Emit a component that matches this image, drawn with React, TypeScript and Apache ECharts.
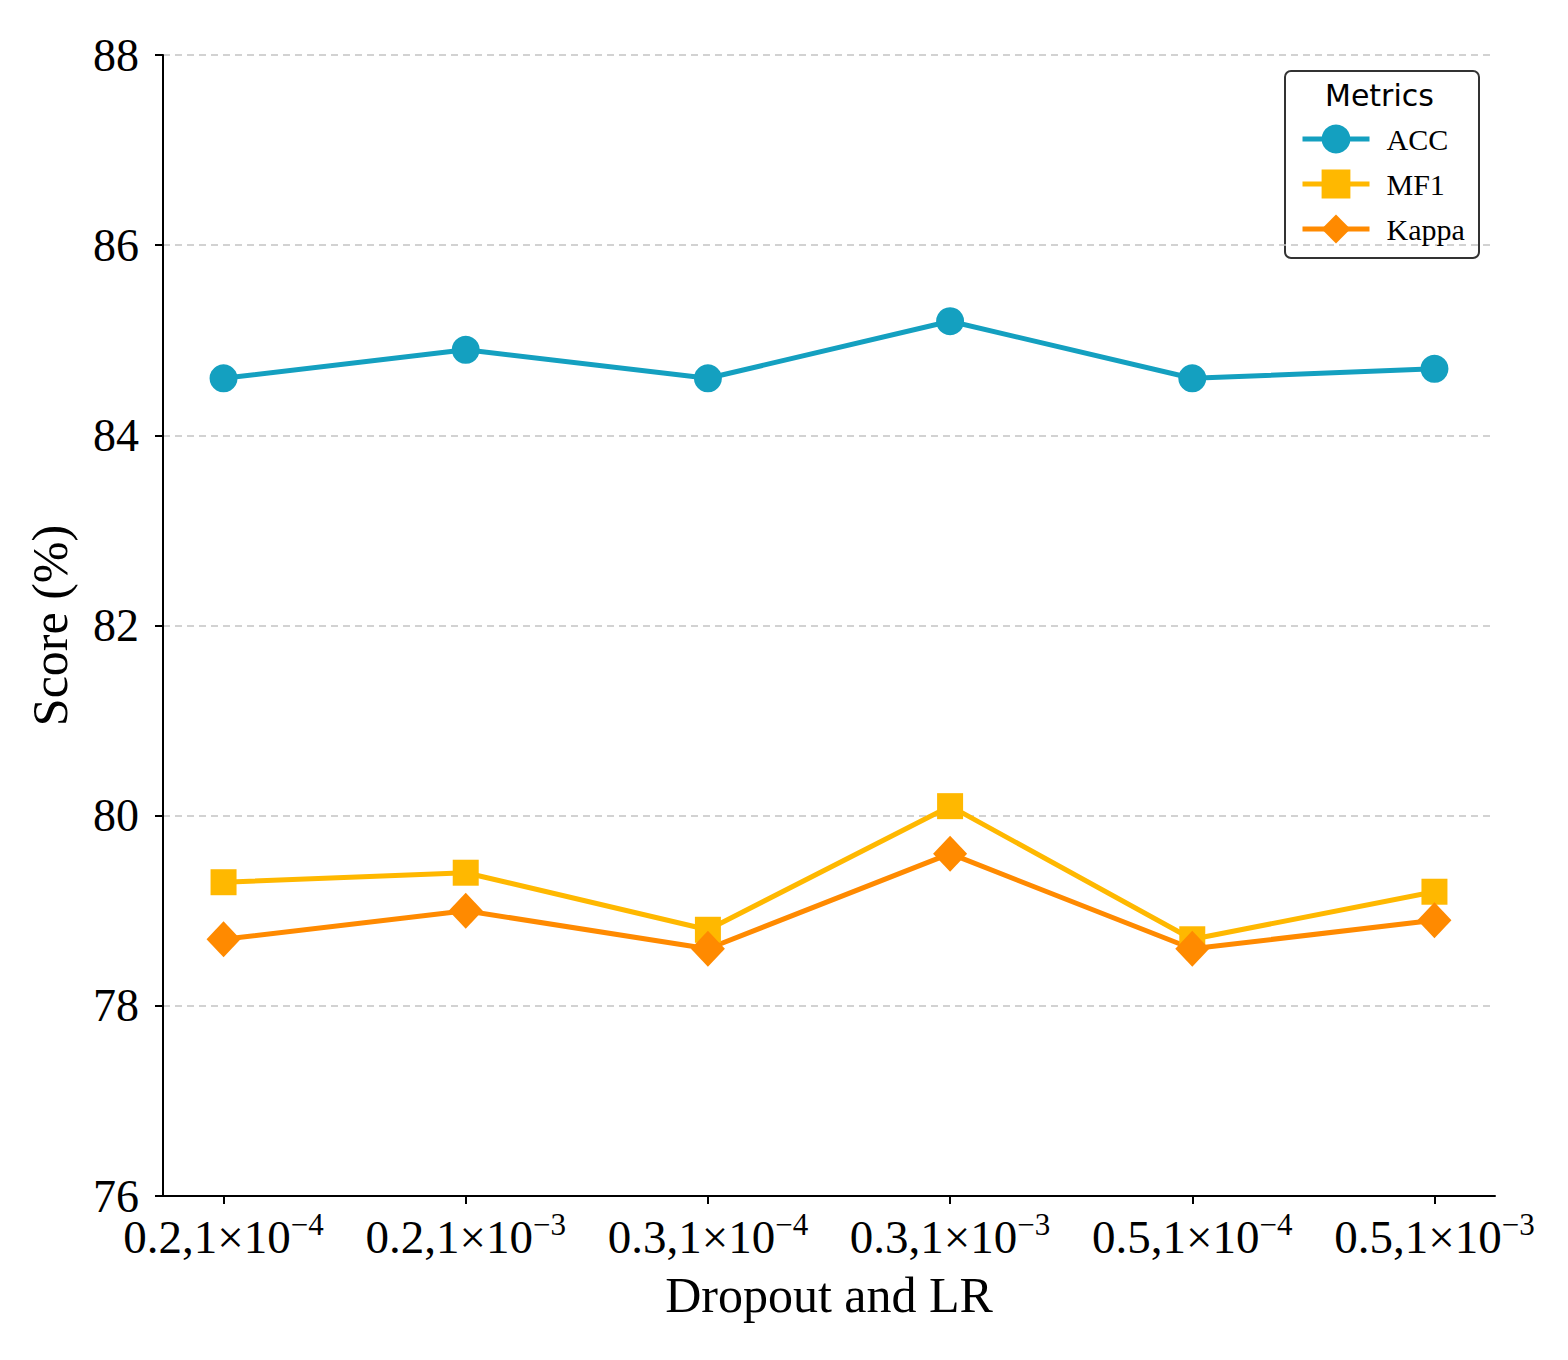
import React, { useEffect, useRef } from 'react';
import * as echarts from 'echarts';

// x positions: dropout, learning-rate exponent
const dropouts = ['0.2', '0.2', '0.3', '0.3', '0.5', '0.5'];
const lrExponents = ['−4', '−3', '−4', '−3', '−4', '−3'];

const accValues = [84.6, 84.9, 84.6, 85.2, 84.6, 84.7];
const mf1Values = [79.3, 79.4, 78.8, 80.1, 78.7, 79.2];
const kappaValues = [78.7, 79.0, 78.6, 79.6, 78.6, 78.9];

const SERIF = '"Liberation Serif", "Times New Roman", serif';

const App: React.FC = () => {
  const chartRef = useRef<HTMLDivElement>(null);

  useEffect(() => {
    if (!chartRef.current) return;
    const chart = echarts.init(chartRef.current, undefined, { renderer: 'svg' });

    const toPoints = (vals: number[]) => vals.map((v, i) => [i, v]);
    const xIdx = dropouts.map((_, i) => i);

    const option: echarts.EChartsOption = {
      animation: false,
      backgroundColor: '#ffffff',
      grid: { left: 155, right: 65, top: 47, bottom: 156 },
      xAxis: {
        type: 'value',
        min: -0.25,
        max: 5.25,
        name: 'Dropout and LR',
        nameLocation: 'middle',
        nameGap: 74,
        nameTextStyle: { fontFamily: SERIF, fontSize: 50, color: '#000' },
        axisLine: { show: true, onZero: false, lineStyle: { color: '#000', width: 2 } },
        axisTick: { show: true, customValues: xIdx, length: 8, lineStyle: { color: '#000', width: 2 } } as any,
        splitLine: { show: false },
        axisLabel: {
          customValues: xIdx,
          margin: 13,
          formatter: (v: number) => {
            const i = Math.round(v);
            return `{b|${dropouts[i]},1×10}{s|${lrExponents[i]}}`;
          },
          rich: {
            b: { fontFamily: SERIF, fontSize: 47, color: '#000' },
            s: { fontFamily: SERIF, fontSize: 31, color: '#000', verticalAlign: 'top', padding: [0, 0, 24, 0] }
          }
        } as any
      },
      yAxis: {
        type: 'value',
        min: 76,
        max: 88,
        interval: 2,
        name: 'Score (%)',
        nameLocation: 'middle',
        nameGap: 88,
        nameTextStyle: { fontFamily: SERIF, fontSize: 50, color: '#000' },
        axisLine: { show: true, onZero: false, lineStyle: { color: '#000', width: 2 } },
        axisTick: { show: true, length: 8, lineStyle: { color: '#000', width: 2 } },
        axisLabel: { fontFamily: SERIF, fontSize: 46, color: '#000', margin: 24 },
        splitLine: { show: true, lineStyle: { color: '#c4c4c4', width: 1.5, type: [7, 5] } }
      },
      legend: {
        left: 1287,
        top: 111,
        orient: 'vertical',
        itemWidth: 67,
        itemHeight: 36,
        itemGap: 15,
        lineStyle: { width: 5 },
        textStyle: { fontFamily: SERIF, fontSize: 30, color: '#000', padding: [0, 0, 0, 12] },
        data: ['ACC', 'MF1', 'Kappa']
      },
      graphic: [
        {
          type: 'rect',
          left: 1276,
          top: 62,
          shape: { width: 194, height: 187, r: 6 },
          style: { fill: 'rgba(255,255,255,0.85)', stroke: '#333', lineWidth: 2 },
          z: -1
        },
        {
          type: 'text',
          left: 1317,
          top: 72,
          style: { text: 'Metrics', font: '30px "DejaVu Sans", sans-serif', fill: '#000' }
        }
      ],
      series: [
        {
          name: 'ACC',
          type: 'line',
          data: toPoints(accValues),
          symbol: 'circle',
          symbolSize: 28,
          lineStyle: { color: '#14a0c0', width: 5 },
          itemStyle: { color: '#14a0c0' }
        },
        {
          name: 'MF1',
          type: 'line',
          data: toPoints(mf1Values),
          symbol: 'rect',
          symbolSize: 26,
          lineStyle: { color: '#ffb800', width: 5 },
          itemStyle: { color: '#ffb800' }
        },
        {
          name: 'Kappa',
          type: 'line',
          data: toPoints(kappaValues),
          symbol: 'diamond',
          symbolSize: [34, 36],
          lineStyle: { color: '#ff8a00', width: 5 },
          itemStyle: { color: '#ff8a00' }
        }
      ]
    };

    chart.setOption(option);
    return () => chart.dispose();
  }, []);

  return <div ref={chartRef} style={{ width: 1552, height: 1344 }} />;
};

export default App;
